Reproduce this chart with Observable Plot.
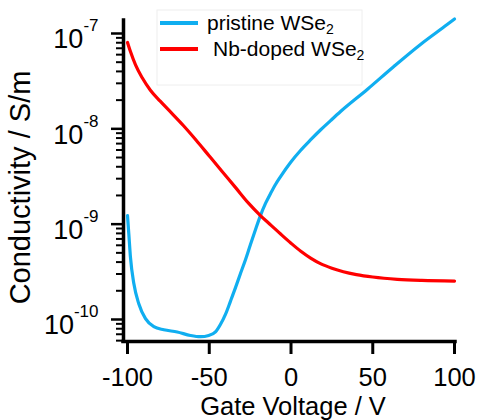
<!DOCTYPE html>
<html>
<head>
<meta charset="utf-8">
<script src="https://cdn.jsdelivr.net/npm/d3@7"></script>
<script src="https://cdn.jsdelivr.net/npm/@observablehq/plot@0.6"></script>
<style>
  body { margin: 0; background: #fff; }
  #chart { width: 478px; height: 420px; }
</style>
</head>
<body>
<div id="chart"></div>
<script>
// ---- data ----
const pristineV = [-100, -99.2, -98.2, -96.1, -93.1, -89.0, -83.9, -77.8, -69.6, -61.5, -55.4, -50.3, -46.2, -43.1, -40.1, -37.0, -33.9, -30.9, -27.8, -24.8, -21.7, -18.7, -15.6, -12.5, -9.5, -6.4, -0.3, 5.8, 11.9, 18.0, 24.2, 30.3, 46.6, 62.9, 79.2, 95.5, 100];
const pristineS = [1.23e-9, 7.9e-10, 4.5e-10, 2.37e-10, 1.46e-10, 1.02e-10, 8.4e-11, 7.8e-11, 7.4e-11, 6.8e-11, 6.6e-11, 6.8e-11, 7.4e-11, 8.9e-11, 1.13e-10, 1.56e-10, 2.17e-10, 3.04e-10, 4.26e-10, 6.12e-10, 8.8e-10, 1.23e-9, 1.65e-9, 2.1e-9, 2.61e-9, 3.16e-9, 4.44e-9, 5.93e-9, 7.64e-9, 9.72e-9, 1.22e-8, 1.52e-8, 2.59e-8, 4.51e-8, 7.67e-8, 1.24e-7, 1.42e-7];
const nbV = [-100, -98.2, -95.1, -91, -86, -80, -73, -66, -58, -50, -42, -34, -26, -18.7, -12, -6, 0, 6, 12, 18, 25, 32, 40, 50, 65, 80, 100];
const nbS = [8.05e-8, 6.46e-8, 4.68e-8, 3.43e-8, 2.54e-8, 1.95e-8, 1.46e-8, 1.09e-8, 7.59e-9, 5.19e-9, 3.55e-9, 2.43e-9, 1.66e-9, 1.23e-9, 9.66e-10, 7.78e-10, 6.31e-10, 5.19e-10, 4.4e-10, 3.85e-10, 3.45e-10, 3.17e-10, 2.96e-10, 2.79e-10, 2.64e-10, 2.57e-10, 2.53e-10];
const seriesNames = ["pristine WSe", "Nb-doped WSe"];
const seriesSub = ["2", "2"];
const seriesColors = ["#10aef0", "#ff0000"];
const xTicks = [-100, -50, 0, 50, 100];
const yMajorTicks = [1e-10, 1e-9, 1e-8, 1e-7];
const yTickBase = "10";
const yTickExponents = ["-10", "-9", "-8", "-7"];
const minorMultipliers = [2, 3, 4, 5, 6, 7, 8, 9];
const xLabel = "Gate Voltage / V";
const yLabel = "Conductivity / S/m";

const xDomain = [-102.45, 100.6];
const yDomain = [5.876e-11, 1.3687e-7];

const pristine = pristineV.map((v, i) => ({v, s: pristineS[i]}));
const nb = nbV.map((v, i) => ({v, s: nbS[i]}));
const yMinorTicks = [];
for (const d of [-11, -10, -9, -8, -7]) for (const m of minorMultipliers) {
  const t = m * Math.pow(10, d);
  if (t >= yDomain[0] && t <= yDomain[1]) yMinorTicks.push(t);
}

const font = "'Liberation Sans', Arial, sans-serif";

const chart = Plot.plot({
  width: 478,
  height: 420,
  marginLeft: 123,
  marginRight: 23,
  marginTop: 20,
  marginBottom: 79,
  style: {fontFamily: font, background: "white", color: "black", overflow: "visible"},
  x: {domain: xDomain, label: null},
  y: {type: "log", domain: yDomain, label: null},
  marks: [
    Plot.axisY({ticks: yMinorTicks, tickSize: 7, strokeWidth: 2, stroke: "black", fill: "none", label: null}),
    Plot.axisY({ticks: yMajorTicks, tickSize: 12, tickPadding: 13, strokeWidth: 2.5, stroke: "black", fill: "black", fontSize: 27, label: null, tickFormat: () => yTickBase}),
    Plot.axisX({ticks: xTicks, tickSize: 13, tickPadding: 13, strokeWidth: 3, stroke: "black", fill: "black", fontSize: 25.5, label: null, tickFormat: d => String(d)}),
    Plot.ruleX([xDomain[0]], {stroke: "black", strokeWidth: 3.5, strokeLinecap: "square"}),
    Plot.ruleY([yDomain[0]], {stroke: "black", strokeWidth: 3.5, strokeLinecap: "square"}),
    Plot.line(pristine, {x: "v", y: "s", stroke: seriesColors[0], strokeWidth: 3.2, curve: "monotone-x"}),
    Plot.line(nb, {x: "v", y: "s", stroke: seriesColors[1], strokeWidth: 3.2, curve: "monotone-x"})
  ]
});

document.getElementById("chart").appendChild(chart);
const svg = d3.select(chart);

// superscript exponents on the y tick labels
svg.selectAll('g[aria-label="y-axis tick label"] text').each(function(_, i) {
  const t = d3.select(this);
  t.text(null).attr("y", 15);
  t.append("tspan").text(yTickBase);
  t.append("tspan").attr("dy", -17).attr("font-size", 17).text(yTickExponents[i]);
});

// axis titles
svg.append("text")
  .attr("x", 293).attr("y", 414.5)
  .attr("text-anchor", "middle")
  .attr("font-family", font).attr("font-size", 25.5)
  .attr("fill", "black")
  .text(xLabel);
svg.append("text")
  .attr("transform", "translate(30,187.5) rotate(-90)")
  .attr("text-anchor", "middle")
  .attr("font-family", font).attr("font-size", 29)
  .attr("fill", "black")
  .text(yLabel);

// legend
const leg = svg.append("g").attr("font-family", font).attr("font-size", 21).attr("text-anchor", "start");
leg.append("rect").attr("x", 157).attr("y", 10).attr("width", 205).attr("height", 75)
  .attr("fill", "none").attr("stroke", "#eeeeee").attr("stroke-width", 1);
const legRows = [{y: 23, base: 30, tx: 207}, {y: 49, base: 56, tx: 213}];
seriesNames.forEach((name, i) => {
  const r = legRows[i];
  leg.append("line").attr("x1", 160).attr("x2", 198).attr("y1", r.y).attr("y2", r.y)
    .attr("stroke", seriesColors[i]).attr("stroke-width", 3.8);
  const t = leg.append("text").attr("x", r.tx).attr("y", r.base).attr("fill", "black").attr("text-anchor", "start");
  t.append("tspan").text(name);
  t.append("tspan").attr("dy", 4).attr("font-size", 14).text(seriesSub[i]);
});
</script>
</body>
</html>
